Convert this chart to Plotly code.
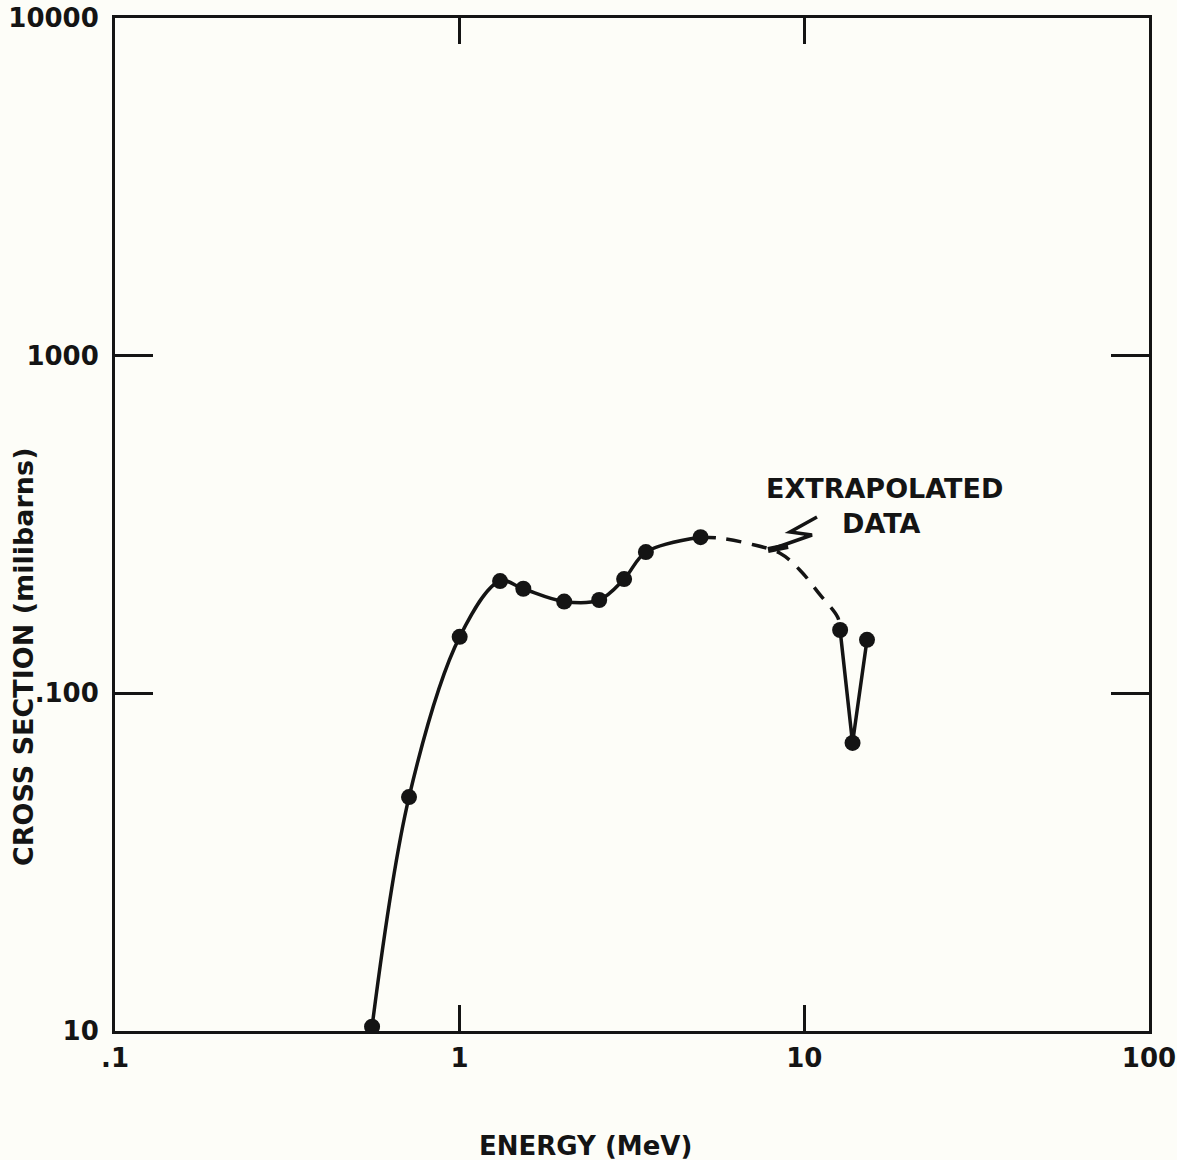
import plotly.graph_objects as go

# Measured cross section (millibarns) versus neutron energy (MeV)
energy_main = [0.557, 0.713, 1.0, 1.31, 1.53, 2.01, 2.54, 3.0, 3.47, 5.0]
xsec_main = [10.3, 49.3, 147, 215, 204, 187, 189, 218, 262, 290]

# Extrapolated region between the low- and high-energy measurements
energy_extrap = [5.0, 5.7, 6.95, 8.5, 9.7, 11.1, 12.5, 12.7]
xsec_extrap = [290, 288, 277, 260, 232, 196, 168, 154]

# High-energy measurements
energy_high = [12.7, 13.8, 15.2]
xsec_high = [154, 71.3, 144]

x_tickvals = [0.1, 1, 10, 100]
x_ticktext = [".1", "1", "10", "100"]
y_tickvals = [10, 100, 1000, 10000]
y_ticktext = ["10", ".100", "1000", "10000"]

INK = "#141414"
PAPER = "#fdfdf8"
FONT = "DejaVu Sans"

# plot-area geometry in pixels (used to place the free text in paper units)
L, R, T, B = 115, 1149, 18, 1031
W, H = R - L, B - T


def px(x):
    return (x - L) / W


def py(y):
    return (B - y) / H


fig = go.Figure()

fig.add_trace(go.Scatter(
    x=energy_main, y=xsec_main, mode="lines+markers",
    line=dict(color=INK, width=3.5, shape="spline", smoothing=1.0),
    marker=dict(color=INK, size=16), showlegend=False, hoverinfo="skip"))

fig.add_trace(go.Scatter(
    x=energy_extrap, y=xsec_extrap, mode="lines",
    line=dict(color=INK, width=3.5, shape="spline", smoothing=1.0, dash="15px,11px"),
    showlegend=False, hoverinfo="skip"))

fig.add_trace(go.Scatter(
    x=energy_high, y=xsec_high, mode="lines+markers",
    line=dict(color=INK, width=3.5),
    marker=dict(color=INK, size=16), showlegend=False, hoverinfo="skip"))

axis_common = dict(
    type="log", showgrid=False, zeroline=False, automargin=False,
    showline=True, linecolor=INK, linewidth=3, mirror="ticks",
    ticks="inside", tickwidth=3, tickcolor=INK, ticklabeloverflow="allow",
    tickfont=dict(family=FONT, size=26, color=INK, weight="bold"),
)

fig.update_xaxes(range=[-1, 2], tickvals=x_tickvals, ticktext=x_ticktext,
                 ticklen=26, ticklabelstandoff=2, **axis_common)
fig.update_yaxes(range=[1, 4], tickvals=y_tickvals, ticktext=y_ticktext,
                 ticklen=38, ticklabelstandoff=8, **axis_common)

# Leader from the "extrapolated data" label to the dashed curve
leader = (f"M {px(817)} {py(517)} L {px(790)} {py(532)} "
          f"L {px(812)} {py(535)} L {px(772)} {py(549)}")
fig.add_shape(type="path", path=leader, xref="paper", yref="paper",
              line=dict(color=INK, width=3.5))
fig.add_shape(type="line", xref="paper", yref="paper",
              x0=px(768), y0=py(550), x1=px(788), y1=py(546),
              line=dict(color=INK, width=6))

label_font = dict(family=FONT, size=27, color=INK, weight="bold")
fig.add_annotation(text="EXTRAPOLATED", xref="paper", yref="paper",
                   x=px(884), y=py(489), showarrow=False,
                   xanchor="center", yanchor="middle", font=label_font)
fig.add_annotation(text="DATA", xref="paper", yref="paper",
                   x=px(881), y=py(523), showarrow=False,
                   xanchor="center", yanchor="middle", font=label_font)

# Axis titles
fig.add_annotation(text="ENERGY (MeV)", xref="paper", yref="paper",
                   x=px(585), y=py(1146), showarrow=False,
                   xanchor="center", yanchor="middle",
                   font=dict(family=FONT, size=26, color=INK, weight="bold"))
fig.add_annotation(text="CROSS SECTION (milibarns)", xref="paper", yref="paper",
                   x=px(23), y=py(657), textangle=-90, showarrow=False,
                   xanchor="center", yanchor="middle",
                   font=dict(family=FONT, size=27, color=INK, weight="bold"))

fig.update_layout(
    width=1177, height=1160,
    margin=dict(l=L, r=1177 - R, t=T, b=1160 - B, pad=0),
    paper_bgcolor=PAPER, plot_bgcolor=PAPER,
)

fig.write_html("out.html")
